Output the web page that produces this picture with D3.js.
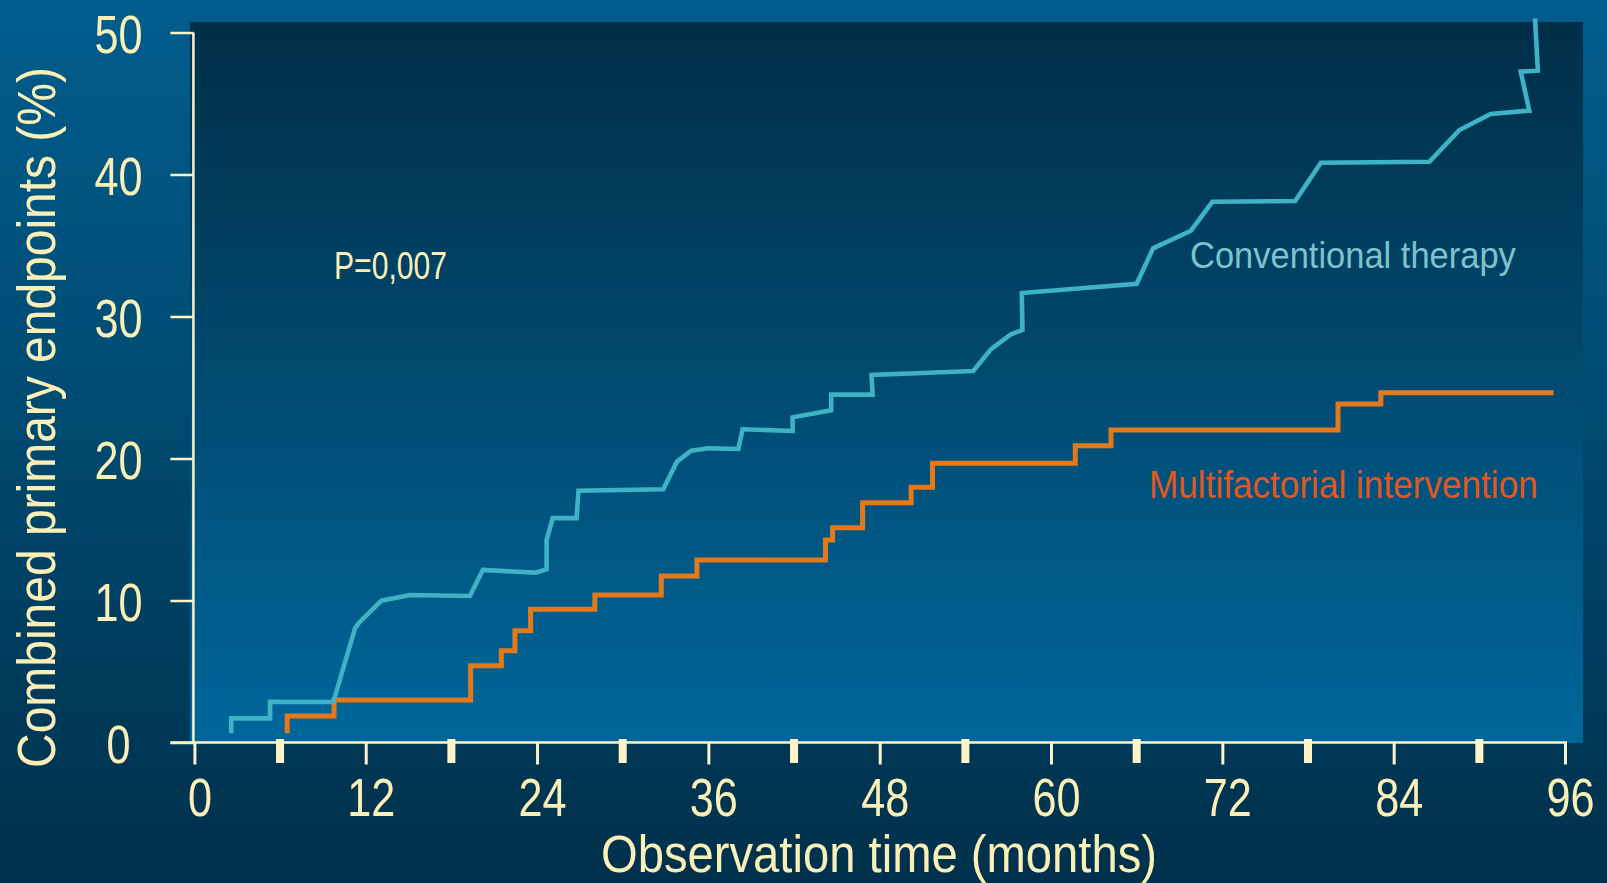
<!DOCTYPE html>
<html>
<head>
<meta charset="utf-8">
<script src="https://cdn.jsdelivr.net/npm/d3@7"></script>
<style>
  html, body { margin: 0; padding: 0; background: #003350; }
  svg { display: block; }
  text { font-family: "Liberation Sans", Arial, sans-serif; }
</style>
</head>
<body>
<svg id="chart" width="1607" height="883"></svg>
<script>
// ---------------- data ----------------
const xTicks = [0, 12, 24, 36, 48, 60, 72, 84, 96];
const yTicks = [0, 10, 20, 30, 40, 50];
const censorMonths = [6, 18, 30, 42, 54, 66, 78, 90];

// Conventional therapy (cumulative %, polyline as printed)
const convMonths = [2.58, 2.58, 5.3, 5.3, 9.73, 11.25, 11.53, 13.1, 15.1, 19.3, 20.2, 23.9, 24.67, 24.67, 25.1, 26.77, 26.9,
  32.84, 33.8, 34.8, 36.0, 38.1, 38.4, 41.9, 41.9, 44.6, 44.6, 47.5, 47.43, 54.55, 55.8, 57.2, 58.0, 57.95,
  66.0, 67.15, 69.8, 71.3, 77.1, 78.9, 86.5, 88.6, 90.8, 93.5, 92.9, 94.1, 93.9];
const convValues = [0.65, 1.70, 1.70, 2.87, 2.85, 8.04, 8.44, 9.99, 10.39, 10.32, 12.15, 11.96, 12.2, 14.26, 15.8, 15.8, 17.73,
  17.83, 19.78, 20.55, 20.72, 20.67, 22.06, 21.94, 22.9, 23.4, 24.5, 24.5, 25.88, 26.16, 27.7, 28.75, 29.05, 31.65,
  32.3, 34.8, 36.04, 38.08, 38.13, 40.83, 40.9, 43.13, 44.26, 44.5, 47.24, 47.31, 51.0];

// Multifactorial intervention (step function: event month, level after event)
const multiMonths = [6.5, 6.5, 9.78, 19.35, 21.5, 22.45, 23.55, 28.05, 32.7, 35.2, 44.2, 44.7, 46.8, 50.2, 51.7, 61.7, 64.2, 80.1, 83.1, 95.2];
const multiValues = [0.65, 1.87, 2.99, 5.41, 6.47, 7.87, 9.38, 10.39, 11.73, 12.85, 14.26, 15.13, 16.89, 17.97, 19.66, 20.9, 22.0, 23.84, 24.63, 24.63];

const xTitle = "Observation time (months)";
const yTitle = "Combined primary endpoints (%)";
const pText = "P=0,007";
const convLabel = "Conventional therapy";
const multiLabel = "Multifactorial intervention";

// ---------------- styles ----------------
const cream = "#fbefb8";
const axisCream = "#fcf4c8";
const tealLine = "#3fb3c5";
const orangeLine = "#e4791c";
const narrow = 0.8;

const svg = d3.select("#chart");
const W = 1607, H = 883;

const defs = svg.append("defs");
const bgGrad = defs.append("linearGradient").attr("id", "bg").attr("x1", 0).attr("y1", 0).attr("x2", 0).attr("y2", 1);
bgGrad.append("stop").attr("offset", "0%").attr("stop-color", "#015d8d");
bgGrad.append("stop").attr("offset", "45%").attr("stop-color", "#004b72");
bgGrad.append("stop").attr("offset", "100%").attr("stop-color", "#00304b");
const pGrad = defs.append("linearGradient").attr("id", "panel").attr("x1", 0).attr("y1", 0).attr("x2", 0).attr("y2", 1);
pGrad.append("stop").attr("offset", "0%").attr("stop-color", "#012e47");
pGrad.append("stop").attr("offset", "100%").attr("stop-color", "#00679b");

svg.append("rect").attr("width", W).attr("height", H).attr("fill", "url(#bg)");

const x = d3.scaleLinear().domain([0, 96]).range([194.4, 1565]);
const y = d3.scaleLinear().domain([0, 50]).range([742.5, 32.5]);

// plot panel
svg.append("rect").attr("x", 190).attr("y", 22).attr("width", 1583 - 190).attr("height", 743 - 22).attr("fill", "url(#panel)");

// lines
const conv = convMonths.map((m, i) => [m, convValues[i]]);
const multi = multiMonths.map((m, i) => [m, multiValues[i]]);

svg.append("path").datum(multi)
  .attr("d", d3.line().x(d => x(d[0])).y(d => y(d[1])).curve(d3.curveStepAfter))
  .attr("fill", "none").attr("stroke", orangeLine).attr("stroke-width", 5).attr("stroke-linejoin", "miter");

svg.append("path").datum(conv)
  .attr("d", d3.line().x(d => x(d[0])).y(d => y(d[1])))
  .attr("fill", "none").attr("stroke", tealLine).attr("stroke-width", 4.6).attr("stroke-linejoin", "miter").attr("stroke-miterlimit", 3);

// y axis
const yAxis = svg.append("g").attr("transform", `translate(${x(0) - 1},0)`)
  .call(d3.axisLeft(y).tickValues(yTicks).tickSize(23).tickPadding(0).tickFormat(() => ""));
yAxis.select(".domain").attr("stroke", axisCream).attr("stroke-width", 2.5).attr("d", `M0,${y(50)}V${y(0)}`);
yAxis.selectAll(".tick line").attr("stroke", axisCream).attr("stroke-width", 2.5);
yAxis.selectAll(".tick").append("text")
  .attr("transform", `translate(-75,20) scale(${narrow},1)`)
  .attr("text-anchor", "middle").attr("fill", cream).attr("font-size", 54)
  .text(d => d);

// x axis
const xAxis = svg.append("g").attr("transform", `translate(0,${y(0)})`)
  .call(d3.axisBottom(x).tickValues(xTicks).tickSize(22).tickPadding(0).tickFormat(() => ""));
xAxis.select(".domain").attr("stroke", axisCream).attr("stroke-width", 2.5).attr("d", `M${x(0) - 24},0H${x(96) + 2}`);
xAxis.selectAll(".tick line").attr("stroke", axisCream).attr("stroke-width", 3);
xAxis.selectAll(".tick").append("text")
  .attr("transform", `translate(5,73) scale(${narrow},1)`)
  .attr("text-anchor", "middle").attr("fill", cream).attr("font-size", 54)
  .text(d => d);

// thick marks between the major ticks
svg.append("g").selectAll("rect").data(censorMonths).join("rect")
  .attr("x", d => x(d) - 4).attr("y", y(0) - 3.5).attr("width", 8).attr("height", 24)
  .attr("fill", axisCream);

// text fitted to a width by horizontal scaling
function fitted(str, px, py, width, size, color, anchor, rotate) {
  const t = svg.append("text").attr("font-size", size).attr("fill", color)
    .attr("text-anchor", anchor).text(str);
  const w = t.node().getComputedTextLength();
  const s = width / w;
  t.attr("transform", `translate(${px},${py})${rotate ? " rotate(-90)" : ""} scale(${s},1)`);
  return t;
}

fitted(xTitle, 879, 872, 556, 51, cream, "middle", false);
fitted(yTitle, 55, 417.5, 701, 53, cream, "middle", true);
fitted(pText, 334, 279.3, 113, 38.5, cream, "start", false);
fitted(convLabel, 1190, 268.3, 326, 37, "#7cc3cf", "start", false);
fitted(multiLabel, 1149, 498.3, 389, 39.5, "#e2561f", "start", false);
</script>
</body>
</html>
